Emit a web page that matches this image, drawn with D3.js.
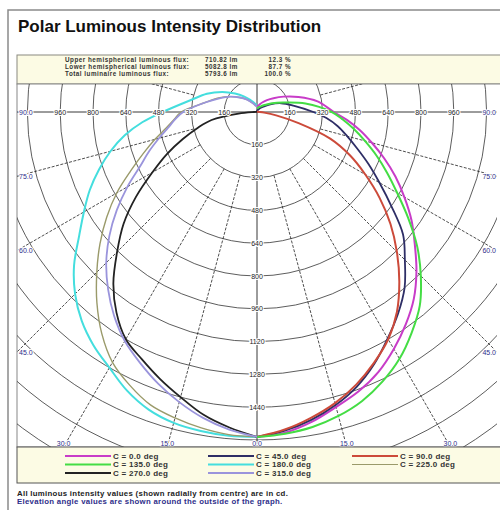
<!DOCTYPE html>
<html>
<head>
<meta charset="utf-8">
<script src="https://cdn.jsdelivr.net/npm/d3@7"></script>
<style>
body { margin: 0; background: #fff; }
text { font-family: "Liberation Sans", Arial, sans-serif; }
</style>
</head>
<body>
<script>
// gamma angles (deg) and intensities (cd), one array per C-plane
var gammaDeg = [0,5,10,15,20,25,30,35,40,45,50,55,60,65,70,75,80,85,90,100,110,120,130,140,150,160,170,180];
var c0   = [1585,1570,1535,1490,1450,1400,1335,1265,1190,1100,1005,920,830,745,660,580,510,440,375,300,215,150,105,76,55,40,30,25];
var c45  = [1585,1560,1525,1480,1425,1355,1275,1200,1120,1020,930,800,690,600,520,455,400,340,275,180,125,75,40,25,15,10,8,5];
var c90  = [1585,1555,1515,1470,1415,1350,1280,1190,1080,965,850,730,610,500,380,210,95,35,12,4,2,2,2,2,2,2,2,2];
var c135 = [1585,1575,1560,1535,1500,1450,1390,1315,1235,1130,1020,900,790,700,620,545,480,420,365,240,135,85,55,40,30,25,20,20];
var c180 = [1585,1585,1580,1570,1545,1500,1440,1390,1330,1255,1165,1060,975,900,820,740,655,560,460,330,260,195,140,100,70,50,38,34];
var c225 = [1585,1580,1565,1545,1520,1470,1410,1320,1215,1105,1000,895,790,680,590,515,450,405,370,260,200,150,110,80,55,40,30,30];
var c270 = [1585,1545,1500,1440,1385,1330,1280,1195,1090,965,850,720,590,485,385,300,225,90,15,4,2,2,2,2,2,2,2,2];
var c315 = [1585,1555,1515,1465,1410,1350,1290,1215,1130,1040,940,835,730,630,560,495,440,400,360,260,195,150,110,80,55,40,30,30];

var cLabels = ["C = 0.0 deg", "C = 45.0 deg", "C = 90.0 deg", "C = 135.0 deg",
               "C = 180.0 deg", "C = 225.0 deg", "C = 270.0 deg", "C = 315.0 deg"];
var ringValues = [160,320,480,640,800,960,1120,1280,1440,1600,1760,1920,2080,2240];
var hLabelValues = [160,320,480,640,800,960];
var vLabelValues = [160,320,480,640,800,960,1120,1280,1440];
var elevationAngles = [90,75,60,45,30,15,0];
var elevationLabels = ["90.0","75.0","60.0","45.0","30.0","15.0","0.0"];
var fluxNames = ["Upper hemispherical luminous flux:", "Lower hemispherical luminous flux:", "Total luminaire luminous flux:"];
var fluxValues = ["710.82 lm", "5082.8 lm", "5793.6 lm"];
var fluxPct = ["12.3 %", "87.7 %", "100.0 %"];
var footNotes = ["All luminous intensity values (shown radially from centre) are in cd.",
                 "Elevation angle values are shown around the outside of the graph."];

// styles
var colors = ["#c83cc8", "#2e2e66", "#cc4a3a", "#44dd44", "#44dede", "#9a9a6a", "#222222", "#9a94dc"];
var widths = [2, 1.8, 2, 2, 2, 1.4, 1.8, 1.8];
var sides  = [1, 1, 1, 1, -1, -1, -1, -1];
var series = [c0, c45, c90, c135, c180, c225, c270, c315];

var box = {left: 17, right: 497, top: 84, bottom: 447};
var cx = 257, cy = 112;
var cream = "#fcfbe4";

var svg = d3.select("body").append("svg")
    .attr("width", 500)
    .attr("height", 510);

var r = d3.scaleLinear().domain([0, 1600]).range([0, 328]);

// outer frame + title
svg.append("rect")
    .attr("x", 8).attr("y", 10).attr("width", 540).attr("height", 540)
    .attr("fill", "none").attr("stroke", "#8a8a8a").attr("stroke-width", 1.5);

svg.append("text")
    .attr("x", 18).attr("y", 32)
    .style("font-size", "17px").style("font-weight", "bold")
    .attr("fill", "#111")
    .text("Polar Luminous Intensity Distribution");

// flux info panel
svg.append("rect")
    .attr("x", box.left).attr("y", 55).attr("width", 500).attr("height", 29)
    .attr("fill", cream).attr("stroke", "#8a8a80").attr("stroke-width", 1);

var flux = svg.append("g").style("font-size", "6.3px").style("font-weight", "bold")
    .style("letter-spacing", "0.5px").attr("fill", "#333");
fluxNames.forEach(function(d, i) {
    var y = 62.3 + i * 7;
    flux.append("text").attr("x", 65).attr("y", y).text(d);
    flux.append("text").attr("x", 205).attr("y", y).text(fluxValues[i]);
    flux.append("text").attr("x", 291).attr("y", y).attr("text-anchor", "end").text(fluxPct[i]);
});

// plot area
svg.append("rect")
    .attr("x", box.left).attr("y", box.top)
    .attr("width", box.right - box.left + 20).attr("height", box.bottom - box.top)
    .attr("fill", "#fff").attr("stroke", "#888");

svg.append("clipPath").attr("id", "plotclip")
  .append("rect")
    .attr("x", box.left).attr("y", box.top)
    .attr("width", box.right - box.left).attr("height", box.bottom - box.top);

var plot = svg.append("g").attr("clip-path", "url(#plotclip)");
var g = plot.append("g").attr("transform", "translate(" + cx + "," + cy + ")");

// rings
g.selectAll(".ring").data(ringValues).enter().append("circle")
    .attr("r", function(d) { return r(d); })
    .attr("fill", "none").attr("stroke", "#333").attr("stroke-width", 0.8);

// radial lines every 15 deg (from the 320 ring outwards)
var radialAngles = [15, 30, 45, 60, 75, 105, -15, -30, -45, -60, -75, -105];
g.selectAll(".radial").data(radialAngles).enter().append("line")
    .attr("x1", function(d) { return r(320) * Math.sin(d * Math.PI / 180); })
    .attr("y1", function(d) { return r(320) * Math.cos(d * Math.PI / 180); })
    .attr("x2", function(d) { return r(3000) * Math.sin(d * Math.PI / 180); })
    .attr("y2", function(d) { return r(3000) * Math.cos(d * Math.PI / 180); })
    .attr("stroke", "#222").attr("stroke-width", 0.8)
    .attr("stroke-dasharray", "3,1.5");

// axes
g.append("line").attr("x1", box.left - cx).attr("x2", box.right - cx).attr("y1", 0).attr("y2", 0)
    .attr("stroke", "#222").attr("stroke-width", 0.9);
g.append("line").attr("x1", 0).attr("x2", 0).attr("y1", box.top - cy).attr("y2", box.bottom - cy)
    .attr("stroke", "#222").attr("stroke-width", 0.9);

// intensity labels
var lab = svg.append("g").style("font-size", "7px").attr("fill", "#222")
    .attr("stroke", "#fff").attr("stroke-width", 2).attr("paint-order", "stroke");
hLabelValues.forEach(function(v) {
    [-1, 1].forEach(function(s) {
        lab.append("text").attr("x", cx + s * r(v)).attr("y", cy + 2.5)
            .attr("text-anchor", "middle").text(v);
    });
});
vLabelValues.forEach(function(v) {
    lab.append("text").attr("x", cx).attr("y", cy + r(v) + 2.5)
        .attr("text-anchor", "middle").text(v);
});

// elevation angle labels where the radial lines meet the frame
var elab = svg.append("g").style("font-size", "7px").attr("fill", "#2e2e8a")
    .attr("stroke", "#fff").attr("stroke-width", 2).attr("paint-order", "stroke");
elevationAngles.forEach(function(a, i) {
    var rad = a * Math.PI / 180;
    [-1, 1].forEach(function(s) {
        if (a === 0 && s === 1) return;
        var tSide = Math.sin(rad) > 0 ? (box.right - cx) / Math.sin(rad) : Infinity;
        var tBot = Math.cos(rad) > 0.001 ? (box.bottom - cy) / Math.cos(rad) : Infinity;
        if (tSide <= tBot) {
            elab.append("text")
                .attr("x", s < 0 ? box.left + 2 : box.right - 1)
                .attr("y", cy + tSide * Math.cos(rad) + 2.5)
                .attr("text-anchor", s < 0 ? "start" : "end")
                .text(elevationLabels[i]);
        } else {
            elab.append("text")
                .attr("x", cx + s * tBot * Math.sin(rad))
                .attr("y", box.bottom - 1.5)
                .attr("text-anchor", "middle")
                .text(elevationLabels[i]);
        }
    });
});

// intensity curves
series.forEach(function(vals, k) {
    var line = d3.lineRadial()
        .angle(function(d, i) { return Math.PI - sides[k] * gammaDeg[i] * Math.PI / 180; })
        .radius(function(d) { return r(d); })
        .curve(d3.curveCatmullRom);
    g.append("path")
        .attr("d", line(vals))
        .attr("fill", "none")
        .attr("stroke", colors[k])
        .attr("stroke-width", widths[k]);
});

// legend
svg.append("rect")
    .attr("x", box.left).attr("y", box.bottom).attr("width", 500).attr("height", 36)
    .attr("fill", cream).attr("stroke", "#555").attr("stroke-width", 1);

var colX = [65, 208, 352], rowY = [456, 464.5, 473];
var leg = svg.append("g").style("font-size", "8px").style("font-weight", "bold")
    .style("letter-spacing", "0.3px").attr("fill", "#333");
cLabels.forEach(function(d, i) {
    var x = colX[i % 3], y = rowY[Math.floor(i / 3)];
    leg.append("line").attr("x1", x).attr("x2", x + 46).attr("y1", y).attr("y2", y)
        .attr("stroke", colors[i]).attr("stroke-width", i === 5 ? 1 : 2);
    leg.append("text").attr("x", x + 48).attr("y", y + 2.8).text(d);
});

// footnotes
var foot = svg.append("g").style("font-size", "7.8px").style("font-weight", "bold")
    .style("letter-spacing", "0.3px");
footNotes.forEach(function(d, i) {
    foot.append("text").attr("x", 17).attr("y", 496 + i * 8)
        .attr("fill", i === 0 ? "#222" : "#2e2e8a").text(d);
});
</script>
</body>
</html>
